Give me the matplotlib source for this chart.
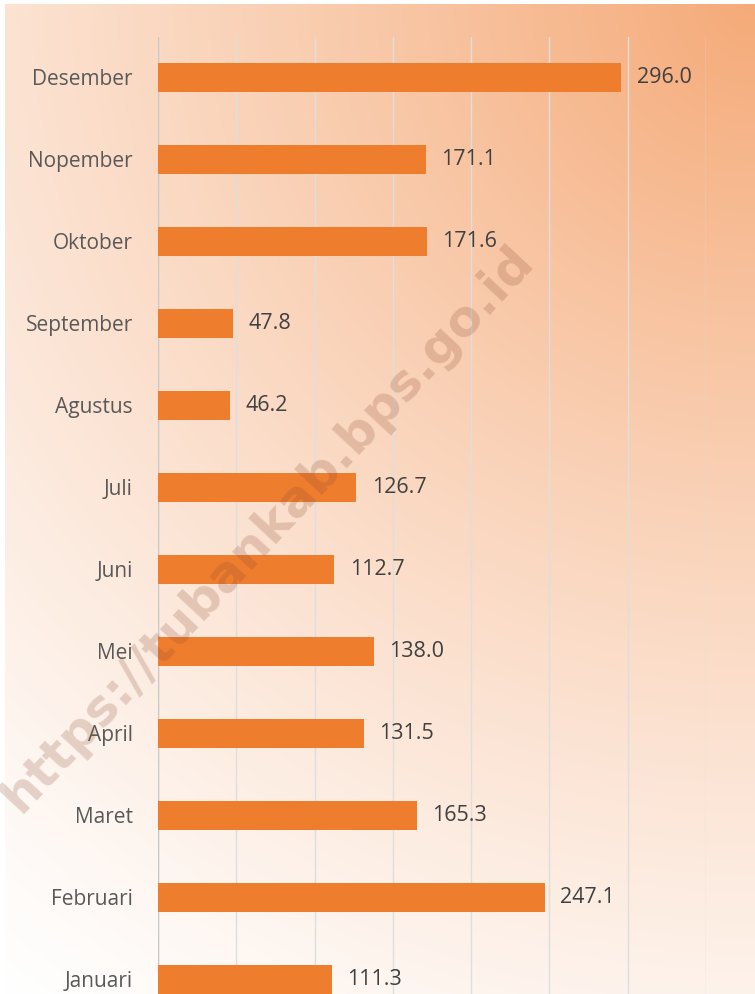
import matplotlib
matplotlib.use("Agg")
import matplotlib.pyplot as plt
import numpy as np

months = ['Januari', 'Februari', 'Maret', 'April', 'Mei', 'Juni', 'Juli',
          'Agustus', 'September', 'Oktober', 'Nopember', 'Desember']
values = [111.3, 247.1, 165.3, 131.5, 138.0, 112.7, 126.7, 46.2, 47.8, 171.6, 171.1, 296.0]
value_labels = ['111.3', '247.1', '165.3', '131.5', '138.0', '112.7', '126.7',
                '46.2', '47.8', '171.6', '171.1', '296.0']
x_ticks = [0, 50, 100, 150, 200, 250, 300, 350]
watermark = "https://tubankab.bps.go.id"

W, H = 755, 994
fig = plt.figure(figsize=(W / 100, H / 100), dpi=100)

# background gradient (radial from top-right corner)
bg = fig.add_axes([0, 0, 1, 1], zorder=0)
yy, xx = np.mgrid[0:H, 0:W]
d = np.sqrt((xx - W) ** 2 + (yy - 0) ** 2)
t = np.clip(1 - d / np.sqrt(W ** 2 + H ** 2), 0, 1)
t = t ** 1.2
white = np.array([1.0, 1.0, 1.0])
peach = np.array([245, 170, 120]) / 255
img = white[None, None, :] * (1 - t[..., None]) + peach[None, None, :] * t[..., None]
img[:4, :, :] = 1.0
img[:, :5, :] = 1.0
bg.imshow(img, extent=[0, W, H, 0], aspect='auto', interpolation='bilinear')
bg.set_xlim(0, W)
bg.set_ylim(H, 0)
bg.axis('off')

ax = fig.add_axes([158 / W, 0, (706 - 158) / W, (H - 36.5) / H], zorder=1)
ax.set_facecolor('none')
y = np.arange(len(months))
ax.barh(y, values, height=0.355, color='#ef7d2e', zorder=3)
ax.set_xlim(0, 350)
ax.set_ylim(-0.177, 11.5)
ax.set_xticks(x_ticks)
ax.set_xticklabels([])
ax.tick_params(axis='x', length=0)
ax.grid(axis='x', color='#dedede', linewidth=1.0, zorder=1)
ax.set_axisbelow(True)
for s in ax.spines.values():
    s.set_visible(False)
ax.axvline(0, color='#c8c8c8', linewidth=1.0, zorder=2)
ax.set_yticks(y)
ax.set_yticklabels(months, fontsize=15, color='#595959', family='Open Sans')
ax.tick_params(axis='y', length=0, pad=18)

for yi, v, lab in zip(y, values, value_labels):
    ax.annotate(lab, (v, yi), xytext=(11, 0), textcoords='offset points',
                va='center', ha='left', fontsize=15.5, color='#404040',
                family='Open Sans', zorder=4)

# watermark
fig.text(268 / W, 1 - 528 / H, watermark, rotation=47, ha='center', va='center',
         fontsize=36, fontweight='bold', color='#8b4a30', alpha=0.22,
         family='DejaVu Sans', zorder=5)

fig.savefig('out.png', dpi=100)
